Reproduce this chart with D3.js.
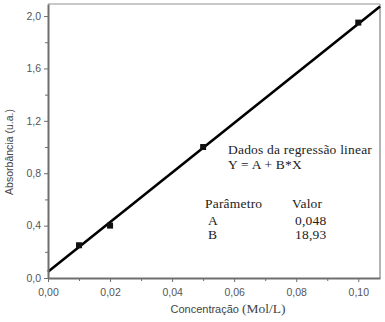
<!DOCTYPE html>
<html>
<head>
<meta charset="utf-8">
<script src="https://cdn.jsdelivr.net/npm/d3@7"></script>
<style>
  body { margin: 0; background: #fff; }
  .axis path, .axis line { stroke: #6e6e6e; }
  .axis text { fill: #555; font-size: 10.5px; font-family: Arial, "Liberation Sans", sans-serif; }
</style>
</head>
<body>
<div id="container"></div>
<script>
// data
const concentracao = [0.01, 0.02, 0.05, 0.10]
const absorbancia = [0.25, 0.40, 1.00, 1.95]
const paramA = 0.048
const paramB = 18.93
const xTicks = [0, 0.02, 0.04, 0.06, 0.08, 0.10]
const xMinor = [0.01, 0.03, 0.05, 0.07, 0.09]
const yTicks = [0, 0.4, 0.8, 1.2, 1.6, 2.0]
const yMinor = [0.2, 0.6, 1.0, 1.4, 1.8]

const w = 385, h = 322
const mLeft = 48, mRight = 380, mTop = 4, mBottom = 278
const SANS = 'Arial, "Liberation Sans", sans-serif'
const SERIF = '"Liberation Serif", "Times New Roman", "DejaVu Serif", serif'

const xscale = d3.scaleLinear().domain([0, 0.107]).range([mLeft, mRight])
const yscale = d3.scaleLinear().domain([0, 2.092]).range([mBottom, mTop])

const comma = f => d => d3.format(f)(d).replace('.', ',')

const svg = d3.select('#container').append('svg')
    .attr('width', w).attr('height', h)

// frame top / right
svg.append('line').attr('x1', mLeft).attr('x2', mRight).attr('y1', mTop).attr('y2', mTop)
    .attr('stroke', '#c8c8c8').attr('stroke-width', 2)
svg.append('line').attr('x1', mRight).attr('x2', mRight).attr('y1', mTop).attr('y2', mBottom)
    .attr('stroke', '#b4b4b4').attr('stroke-width', 2)

// regression line
svg.append('line')
    .attr('x1', xscale(0)).attr('y1', yscale(paramA))
    .attr('x2', xscale(0.107)).attr('y2', yscale(paramA + paramB * 0.107))
    .attr('stroke', '#000').attr('stroke-width', 2.6)

// points
svg.append('g').selectAll('rect')
    .data(concentracao)
    .enter().append('rect')
    .attr('x', (d) => xscale(d) - 3)
    .attr('y', (d, i) => yscale(absorbancia[i]) - 3)
    .attr('width', 6).attr('height', 6)
    .attr('fill', '#111')

// minor axes
svg.append('g').attr('class', 'axis')
    .attr('transform', 'translate(0,' + mBottom + ')')
    .call(d3.axisBottom(xscale).tickValues(xMinor).tickSize(3).tickFormat(''))
    .call(g => g.select('.domain').remove())
svg.append('g').attr('class', 'axis')
    .attr('transform', 'translate(' + mLeft + ',0)')
    .call(d3.axisLeft(yscale).tickValues(yMinor).tickSize(3).tickFormat(''))
    .call(g => g.select('.domain').remove())

// major axes
svg.append('g').attr('class', 'axis')
    .attr('transform', 'translate(0,' + mBottom + ')')
    .call(d3.axisBottom(xscale).tickValues(xTicks).tickSize(4).tickSizeOuter(0).tickPadding(7).tickFormat(comma('.2f')))
    .call(g => g.select('.domain').attr('stroke-width', 2))
svg.append('g').attr('class', 'axis')
    .attr('transform', 'translate(' + mLeft + ',0)')
    .call(d3.axisLeft(yscale).tickValues(yTicks).tickSize(4).tickSizeOuter(0).tickPadding(3).tickFormat(comma('.1f')))
    .call(g => g.select('.domain').attr('stroke-width', 2))

// axis titles
svg.append('text')
    .attr('transform', 'translate(13,152) rotate(-90)')
    .attr('text-anchor', 'middle')
    .attr('fill', '#444')
    .style('font-family', SANS).style('font-size', '10.5px')
    .text('Absorbância (u.a.)')

const xt = svg.append('text').attr('x', 228).attr('y', 313)
    .attr('text-anchor', 'middle').attr('fill', '#444')
    .style('font-family', SANS).style('font-size', '11px')
xt.append('tspan').text('Concentração ')
xt.append('tspan').style('font-family', SERIF).style('font-size', '13.5px').text('(Mol/L)')

// regression box
const note = svg.append('g')
    .style('font-family', SERIF).style('font-size', '13.5px')
    .style('letter-spacing', '0.2px').attr('fill', '#222')
note.append('text').attr('x', 228).attr('y', 154).text('Dados da regressão linear')
note.append('text').attr('x', 228).attr('y', 169).text('Y = A + B*X')
note.append('text').attr('x', 205).attr('y', 208).text('Parâmetro')
note.append('text').attr('x', 292).attr('y', 208).text('Valor')
note.append('text').attr('x', 208).attr('y', 225).text('A')
note.append('text').attr('x', 295).attr('y', 225).text(comma('.3f')(paramA))
note.append('text').attr('x', 208).attr('y', 239).text('B')
note.append('text').attr('x', 295).attr('y', 239).text(comma('.2f')(paramB))
</script>
</body>
</html>
